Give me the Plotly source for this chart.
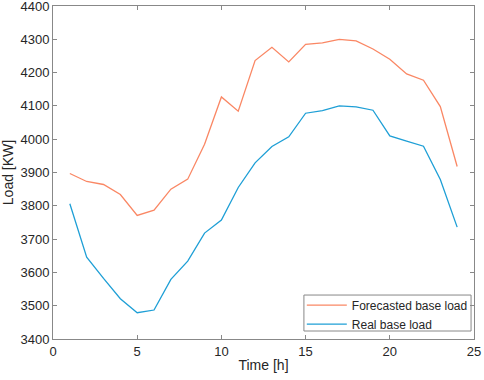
import plotly.graph_objects as go

hours = list(range(1, 25))
forecasted = [3897, 3873, 3864, 3834, 3771, 3787, 3850, 3880, 3985, 4127, 4084, 4236,
              4276, 4232, 4285, 4289, 4300, 4295, 4271, 4240, 4196, 4177, 4098, 3918]
real = [3806, 3646, 3582, 3521, 3479, 3487, 3579, 3634, 3718, 3757, 3855, 3929,
        3978, 4007, 4078, 4086, 4100, 4097, 4087, 4010, 3994, 3979, 3879, 3736]
x_ticks = [0, 5, 10, 15, 20, 25]
y_ticks = list(range(3400, 4401, 100))

fig = go.Figure()
fig.add_trace(go.Scatter(x=hours, y=forecasted, mode="lines", name="Forecasted base load",
                         line=dict(color="#FA8764", width=1.3)))
fig.add_trace(go.Scatter(x=hours, y=real, mode="lines", name="Real base load",
                         line=dict(color="#1E9FD6", width=1.3)))

axis_common = dict(showgrid=False, zeroline=False, showline=True, mirror="ticks",
                   linecolor="#888888", linewidth=1, ticks="inside", ticklen=4,
                   tickcolor="#888888", tickfont=dict(size=13, color="#262626"),
                   automargin=False, ticklabeloverflow="allow")
fig.update_xaxes(range=[0, 25], tickvals=x_ticks,
                 title=dict(text="Time [h]", font=dict(size=14, color="#262626"), standoff=2),
                 **axis_common)
fig.update_yaxes(range=[3400, 4400], tickvals=y_ticks,
                 title=dict(text="Load [KW]", font=dict(size=14, color="#262626"), standoff=6),
                 **axis_common)

# legend frame (decoration only)
fig.add_shape(type="rect", xref="paper", yref="paper", x0=0.596, x1=0.993, y0=0.024, y1=0.132,
              line=dict(color="#888888", width=1), fillcolor="white", layer="below")

fig.update_layout(
    width=484, height=380,
    margin=dict(l=53, r=10, t=6, b=41, autoexpand=False),
    paper_bgcolor="white", plot_bgcolor="white",
    font=dict(family="Liberation Sans, Arial, sans-serif", color="#262626"),
    legend=dict(x=0.591, y=0.145, xanchor="left", yanchor="top",
                borderwidth=0, bgcolor="rgba(0,0,0,0)",
                font=dict(size=12), tracegroupgap=0, itemwidth=40),
)
fig.write_html("out.html", config={"displayModeBar": False},
               post_script="document.body.style.margin='0';document.body.style.padding='0';")
